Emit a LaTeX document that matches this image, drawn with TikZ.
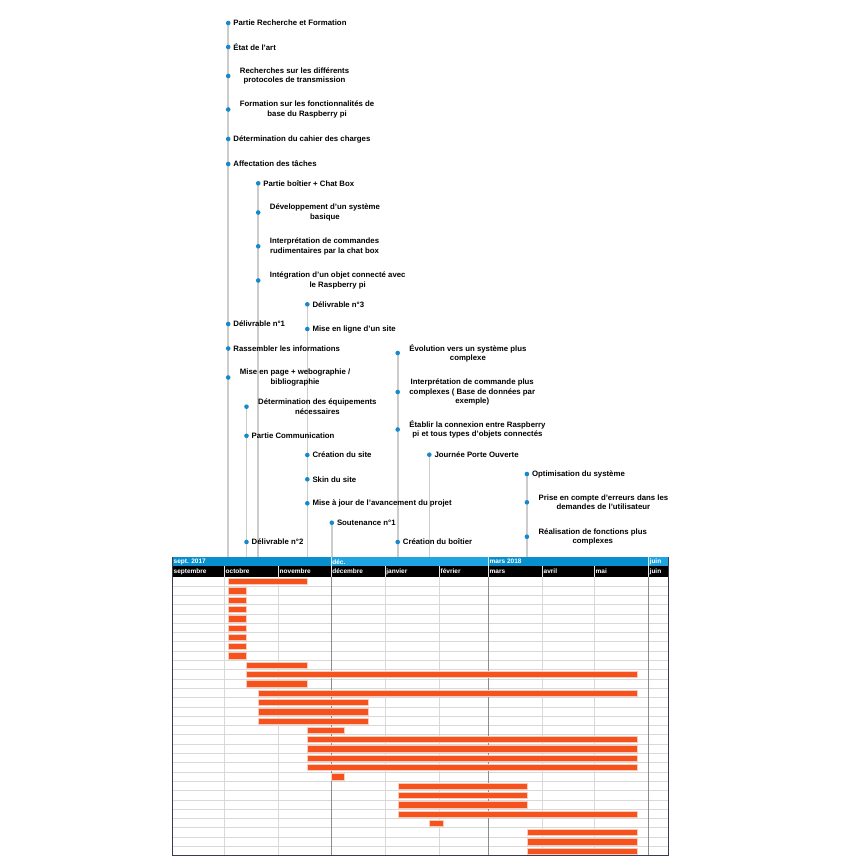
\documentclass[tikz,border=0pt]{standalone}
\usepackage{fontspec}
\setmainfont{Liberation Sans}
\usepackage{tikz}
\usetikzlibrary{positioning,backgrounds}
\definecolor{dotblue}{RGB}{22,136,204}
\definecolor{lanegray}{RGB}{204,204,204}
\definecolor{gridgray}{RGB}{217,217,217}
\definecolor{quartergray}{RGB}{140,140,140}
\definecolor{framenavy}{RGB}{55,60,80}
\definecolor{hdrdark}{RGB}{8,143,206}
\definecolor{hdrlight}{RGB}{30,165,225}
\definecolor{barorange}{RGB}{245,82,30}

\begin{document}
\begin{tikzpicture}[x=1pt,y=-1pt]
            \tikzstyle{every node}+=[inner sep=0.5pt]
            \tikzstyle{dot}=[circle,fill=dotblue,minimum size=4.6pt,inner sep=0pt]
            \tikzstyle{lbl}=[font=\fontsize{7.8}{9.3}\selectfont\bfseries,node distance=2pt]
            \tikzstyle{lbltwo}=[font=\fontsize{7.8}{9.3}\selectfont\bfseries,align=center,node distance=8.5pt]
            \tikzstyle{lane}=[draw=lanegray,line width=1.6pt]
            \tikzstyle{hdr}=[font=\fontsize{6.5}{6.5}\selectfont\bfseries,text=white,anchor=west]
            \tikzstyle{bar}=[fill=barorange,draw=barorange!30,line width=0.8pt]
            \useasboundingbox (0,0) rectangle (861,868);
            \coordinate (ctop) at (172.3,557);
            % recherche et formation
            \node [dot] (a1) at (228.2,23) {};
            \node [lbl, right=of a1] (la1) {Partie Recherche et Formation};
            \node [dot] (a2) at (228.2,47) {};
            \node [lbl, right=of a2] (la2) {État de l'art};
            \node [dot] (a3) at (228.2,76) {};
            \node [lbltwo, right=of a3] (la3) {Recherches sur les différents\\protocoles de transmission};
            \node [dot] (a4) at (228.2,109.5) {};
            \node [lbltwo, right=of a4] (la4) {Formation sur les fonctionnalités de\\base du Raspberry pi};
            \node [dot] (a5) at (228.2,139) {};
            \node [lbl, right=of a5] (la5) {Détermination du cahier des charges};
            \node [dot] (a6) at (228.2,164) {};
            \node [lbl, right=of a6] (la6) {Affectation des tâches};
            \node [dot] (a7) at (228.2,324) {};
            \node [lbl, right=of a7] (la7) {Délivrable n°1};
            \node [dot] (a8) at (228.2,348.5) {};
            \node [lbl, right=of a8] (la8) {Rassembler les informations};
            \node [dot] (a9) at (228.2,377.5) {};
            \node [lbltwo, right=of a9] (la9) {Mise en page + webographie /\\bibliographie};
            % boitier + chat box
            \node [dot] (b1) at (258.2,183.3) {};
            \node [lbl, right=of b1] (lb1) {Partie boîtier + Chat Box};
            \node [dot] (b2) at (258.2,212.5) {};
            \node [lbltwo, right=of b2] (lb2) {Développement d'un système\\basique};
            \node [dot] (b3) at (258.2,246.3) {};
            \node [lbltwo, right=of b3] (lb3) {Interprétation de commandes\\rudimentaires par la chat box};
            \node [dot] (b4) at (258.2,280.5) {};
            \node [lbltwo, right=of b4] (lb4) {Intégration d'un objet connecté avec\\le Raspberry pi};
            % site
            \node [dot] (c1) at (307.3,304.3) {};
            \node [lbl, right=of c1] (lc1) {Délivrable n°3};
            \node [dot] (c2) at (307.3,329) {};
            \node [lbl, right=of c2] (lc2) {Mise en ligne d'un site};
            \node [dot] (c3) at (307.3,455) {};
            \node [lbl, right=of c3] (lc3) {Création du site};
            \node [dot] (c4) at (307.3,479.3) {};
            \node [lbl, right=of c4] (lc4) {Skin du site};
            \node [dot] (c5) at (307.3,503.3) {};
            \node [lbl, right=of c5] (lc5) {Mise à jour de l'avancement du projet};
            % communication
            \node [dot] (d1) at (246.5,406.7) {};
            \node [lbltwo, right=of d1] (ld1) {Détermination des équipements\\nécessaires};
            \node [dot] (d2) at (246.5,435.8) {};
            \node [lbl, right=of d2] (ld2) {Partie Communication};
            \node [dot] (d3) at (246.5,542) {};
            \node [lbl, right=of d3] (ld3) {Délivrable n°2};
            % soutenance
            \node [dot] (e1) at (331.8,522.7) {};
            \node [lbl, right=of e1] (le1) {Soutenance n°1};
            % evolution
            \node [dot] (f1) at (397.7,353) {};
            \node [lbltwo, right=of f1] (lf1) {Évolution vers un système plus\\complexe};
            \node [dot] (f2) at (397.7,392) {};
            \node [lbltwo, right=of f2] (lf2) {Interprétation de commande plus\\complexes ( Base de données par\\exemple)};
            \node [dot] (f3) at (397.7,429.5) {};
            \node [lbltwo, right=of f3] (lf3) {Établir la connexion entre Raspberry\\pi et tous types d'objets connectés};
            \node [dot] (f4) at (397.7,542) {};
            \node [lbl, right=of f4] (lf4) {Création du boîtier};
            % porte ouverte
            \node [dot] (g1) at (429.3,454.7) {};
            \node [lbl, right=of g1] (lg1) {Journée Porte Ouverte};
            % optimisation
            \node [dot] (h1) at (526.9,474) {};
            \node [lbl, right=of h1] (lh1) {Optimisation du système};
            \node [dot] (h2) at (526.9,502.3) {};
            \node [lbltwo, right=of h2] (lh2) {Prise en compte d'erreurs dans les\\demandes de l'utilisateur};
            \node [dot] (h3) at (526.9,536.7) {};
            \node [lbltwo, right=of h3] (lh3) {Réalisation de fonctions plus\\complexes};
            % lanes behind the dots
            \begin{scope}[on background layer]
            \draw [lane] (a1.center) -- (a1 |- ctop);
            \draw [lane] (b1.center) -- (b1 |- ctop);
            \draw [lane] (c1.center) -- (c1 |- ctop);
            \draw [lane] (d1.center) -- (d1 |- ctop);
            \draw [lane] (e1.center) -- (e1 |- ctop);
            \draw [lane] (f1.center) -- (f1 |- ctop);
            \draw [lane] (g1.center) -- (g1 |- ctop);
            \draw [lane] (h1.center) -- (h1 |- ctop);
            \end{scope}
            % gantt header
            \fill [hdrdark] (172.3,557) rectangle (331,566.3);
            \fill [hdrlight] (331,557) rectangle (488.3,566.3);
            \fill [hdrdark] (488.3,557) rectangle (648.3,566.3);
            \fill [hdrlight] (648.3,557) rectangle (668.3,566.3);
            \fill [black] (172.3,566.3) rectangle (668.3,576.5);
            \draw [white!80!gray,line width=0.5pt] (331,557) -- (331,566.3) (488.3,557) -- (488.3,566.3) (648.3,557) -- (648.3,566.3);
            \draw [white!80!gray,line width=0.5pt] (224.3,566.3) -- (224.3,576.5) (278.3,566.3) -- (278.3,576.5)
                (331,566.3) -- (331,576.5) (385,566.3) -- (385,576.5) (439.3,566.3) -- (439.3,576.5)
                (488.3,566.3) -- (488.3,576.5) (542.3,566.3) -- (542.3,576.5) (594.3,566.3) -- (594.3,576.5)
                (648.3,566.3) -- (648.3,576.5);
            \node [hdr] (q1) at (173,561.7) {sept. 2017};
            \node [hdr] (q2) at (331.7,561.7) {déc.};
            \node [hdr] (q3) at (489,561.7) {mars 2018};
            \node [hdr] (q4) at (649,561.7) {juin};
            \node [hdr] (m1) at (173,571.5) {septembre};
            \node [hdr] (m2) at (225,571.5) {octobre};
            \node [hdr] (m3) at (279,571.5) {novembre};
            \node [hdr] (m4) at (331.7,571.5) {décembre};
            \node [hdr] (m5) at (385.7,571.5) {janvier};
            \node [hdr] (m6) at (440,571.5) {février};
            \node [hdr] (m7) at (489,571.5) {mars};
            \node [hdr] (m8) at (543,571.5) {avril};
            \node [hdr] (m9) at (595,571.5) {mai};
            \node [hdr] (m10) at (649,571.5) {juin};
            % gantt grid
            \draw [gridgray,line width=0.7pt] (172.3,586.0) -- (668.3,586.0) (172.3,595.3) -- (668.3,595.3)
                (172.3,604.6) -- (668.3,604.6) (172.3,613.9) -- (668.3,613.9) (172.3,623.2) -- (668.3,623.2)
                (172.3,632.5) -- (668.3,632.5) (172.3,641.8) -- (668.3,641.8) (172.3,651.1) -- (668.3,651.1)
                (172.3,660.4) -- (668.3,660.4) (172.3,669.7) -- (668.3,669.7) (172.3,679.0) -- (668.3,679.0)
                (172.3,688.3) -- (668.3,688.3) (172.3,697.6) -- (668.3,697.6) (172.3,706.9) -- (668.3,706.9)
                (172.3,716.2) -- (668.3,716.2) (172.3,725.5) -- (668.3,725.5) (172.3,734.8) -- (668.3,734.8)
                (172.3,744.1) -- (668.3,744.1) (172.3,753.4) -- (668.3,753.4) (172.3,762.7) -- (668.3,762.7)
                (172.3,772.0) -- (668.3,772.0) (172.3,781.3) -- (668.3,781.3) (172.3,790.6) -- (668.3,790.6)
                (172.3,799.9) -- (668.3,799.9) (172.3,809.2) -- (668.3,809.2) (172.3,818.5) -- (668.3,818.5)
                (172.3,827.8) -- (668.3,827.8) (172.3,837.1) -- (668.3,837.1) (172.3,846.4) -- (668.3,846.4);
            \draw [gridgray,line width=0.7pt] (224.3,576.5) -- (224.3,855.7) (278.3,576.5) -- (278.3,855.7)
                (385,576.5) -- (385,855.7) (439.3,576.5) -- (439.3,855.7)
                (542.3,576.5) -- (542.3,855.7) (594.3,576.5) -- (594.3,855.7);
            \draw [quartergray,line width=0.7pt] (331,576.5) -- (331,855.7) (488.3,576.5) -- (488.3,855.7)
                (648.3,576.5) -- (648.3,855.7);
            % bars
            \draw [bar] (228.3,578.4) rectangle (307.5,584.7);
            \draw [bar] (228.3,587.7) rectangle (246,594.0);
            \draw [bar] (228.3,597.0) rectangle (246,603.3);
            \draw [bar] (228.3,606.3) rectangle (246,612.6);
            \draw [bar] (228.3,615.6) rectangle (246,621.9);
            \draw [bar] (228.3,624.9) rectangle (246,631.2);
            \draw [bar] (228.3,634.2) rectangle (246,640.5);
            \draw [bar] (228.3,643.5) rectangle (246,649.8);
            \draw [bar] (228.3,652.8) rectangle (246,659.1);
            \draw [bar] (246.5,662.1) rectangle (307.5,668.4);
            \draw [bar] (246.5,671.4) rectangle (637,677.7);
            \draw [bar] (246.5,680.7) rectangle (307.5,687.0);
            \draw [bar] (258.3,690.0) rectangle (637,696.3);
            \draw [bar] (258.3,699.3) rectangle (368.3,705.6);
            \draw [bar] (258.3,708.6) rectangle (368.3,714.9);
            \draw [bar] (258.3,717.9) rectangle (368.3,724.2);
            \draw [bar] (307.3,727.2) rectangle (344,733.5);
            \draw [bar] (307.3,736.5) rectangle (637,742.8);
            \draw [bar] (307.3,745.8) rectangle (637,752.1);
            \draw [bar] (307.3,755.1) rectangle (637,761.4);
            \draw [bar] (307.3,764.4) rectangle (637,770.7);
            \draw [bar] (331.3,773.7) rectangle (344,780.0);
            \draw [bar] (398,783.0) rectangle (527.3,789.3);
            \draw [bar] (398,792.3) rectangle (527.3,798.6);
            \draw [bar] (398,801.6) rectangle (527.3,807.9);
            \draw [bar] (398,810.9) rectangle (637,817.2);
            \draw [bar] (429.3,820.2) rectangle (443.3,826.5);
            \draw [bar] (527.3,829.5) rectangle (637.3,835.8);
            \draw [bar] (527.3,838.8) rectangle (637.3,845.1);
            \draw [bar] (527.3,848.1) rectangle (637.3,854.4);
            % frame
            \draw [framenavy,line width=1.1pt] (172.3,557) -- (172.3,855.7) -- (668.3,855.7) -- (668.3,557);
        \end{tikzpicture}
\end{document}
